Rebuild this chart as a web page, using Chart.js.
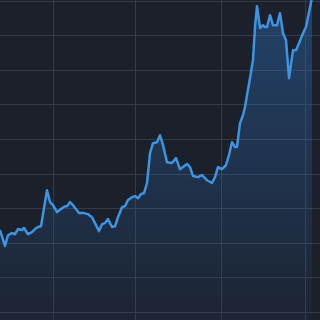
<!DOCTYPE html>
<html lang="en">
<head>
	<meta charset="utf-8">
	<title>Price area</title>
	<script src="https://cdn.jsdelivr.net/npm/chart.js@4.4.1/dist/chart.umd.min.js"></script>
	<style>
		html, body {
			margin: 0;
			padding: 0;
			background: #1c202b;
		}
		#wrap {
			width: 320px;
			height: 320px;
		}
	</style>
</head>
<body>
	<div id="wrap"><canvas id="priceChart"></canvas></div>
	<script>
		// day index of each sample
		var days = [0, 5, 8, 12, 15, 18, 22, 24, 28, 32, 35, 38, 41, 47, 50, 53, 57, 62, 65, 67,
			70, 73, 79, 84, 88, 92, 95, 99, 102, 105, 108, 110, 112, 115, 118, 122, 125, 128, 132, 135,
			138, 141, 144, 147, 150, 153, 157, 160, 163, 167, 172, 176, 180, 183, 187, 190, 193, 198, 202, 207,
			212, 215, 218, 222, 226, 229, 232, 235, 237, 240, 243, 245, 247, 249, 251, 253, 255, 257, 260, 263,
			265, 267, 270, 273, 277, 280, 283, 286, 289, 293, 296, 299, 303, 306, 308, 312]
		// closing price
		var prices = [23.8, 19.2, 22.3, 22.9, 22.6, 24.1, 23.8, 24.4, 22.6, 23.2, 24.1, 24.7, 24.9, 35.3, 31.9, 31.0, 29.0, 30.1, 30.7, 30.7,
			31.9, 31.0, 28.7, 28.7, 28.4, 27.5, 25.8, 23.5, 25.5, 25.8, 27.0, 25.8, 24.7, 24.9, 27.5, 30.4, 30.7, 32.5, 33.3, 33.6,
			33.0, 34.2, 34.5, 37.4, 46.0, 48.9, 49.2, 51.2, 48.4, 43.4, 43.2, 44.6, 41.4, 42.0, 42.9, 42.0, 39.4, 39.1, 39.7, 38.2,
			37.4, 39.1, 42.0, 41.4, 42.6, 45.5, 49.2, 47.8, 47.8, 54.7, 57.0, 59.3, 62.8, 66.0, 69.5, 72.9, 82.5, 88.5, 82.2, 83.0,
			82.5, 82.5, 85.9, 83.0, 83.0, 86.5, 80.7, 78.7, 67.7, 75.8, 75.8, 77.8, 80.7, 82.5, 85.3, 91.1]
		// grid positions
		var xGrid = [53, 135, 221, 305]
		var yGrid = [0, 10, 20, 30, 40, 50, 60, 70, 80, 90]

		var points = []
		for (var i = 0; i < days.length; i++) {
			points.push({ x: days[i], y: prices[i] })
		}

		function areaFill(context) {
			var area = context.chart.chartArea
			if (!area) {
				return 'rgba(45,110,180,0.25)'
			}
			var g = context.chart.ctx.createLinearGradient(0, area.top, 0, area.bottom)
			g.addColorStop(0, 'rgba(45,115,190,0.42)')
			g.addColorStop(1, 'rgba(45,115,190,0.06)')
			return g
		}

		var gridColor = '#353a47'

		new Chart('priceChart', {
			type: 'line',
			data: {
				datasets: [{
					data: points,
					borderColor: '#3d95e2',
					borderWidth: 2.5,
					borderJoinStyle: 'round',
					pointRadius: 0,
					tension: 0,
					fill: 'start',
					backgroundColor: areaFill
				}]
			},
			options: {
				responsive: true,
				maintainAspectRatio: false,
				animation: false,
				layout: { padding: 0 },
				plugins: {
					legend: { display: false },
					tooltip: { enabled: false }
				},
				scales: {
					x: {
						type: 'linear',
						min: 0,
						max: 320,
						afterBuildTicks: function (axis) {
							axis.ticks = xGrid.map(function (v) { return { value: v } })
						},
						ticks: { display: false },
						grid: { color: gridColor, drawTicks: false },
						border: { display: false }
					},
					y: {
						min: -2.2,
						max: 90.3,
						afterBuildTicks: function (axis) {
							axis.ticks = yGrid.map(function (v) { return { value: v } })
						},
						ticks: { display: false },
						grid: { color: gridColor, drawTicks: false },
						border: { display: false }
					}
				}
			}
		})
	</script>
</body>
</html>
